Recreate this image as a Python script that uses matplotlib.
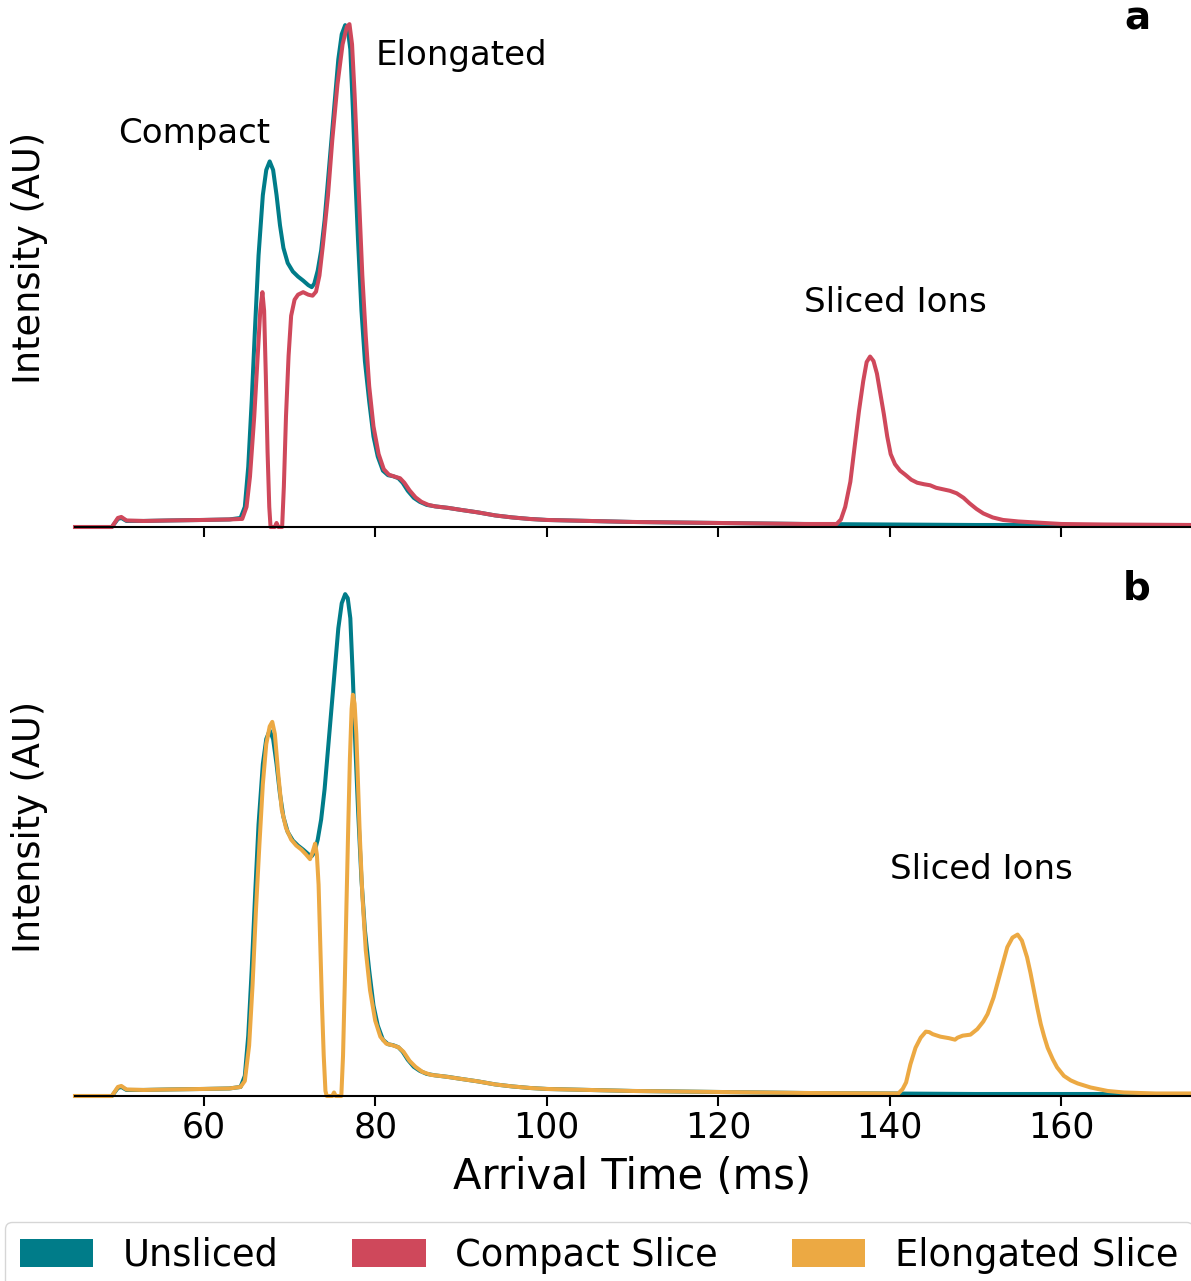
import numpy as np
import matplotlib.pyplot as plt
from matplotlib.patches import Patch

plt.rcParams['font.family'] = 'DejaVu Sans'

# arrival time distributions, intensity normalised to the tallest peak
t_unsliced = [45.0, 49.3, 50.0, 50.4, 51.0, 53.0, 56.0, 60.0, 63.0, 64.3, 64.8, 65.2, 65.6, 66.0,
              66.4, 66.9, 67.3, 67.7, 68.1, 68.5, 68.9, 69.3, 69.8, 70.4, 71.0, 71.6, 72.2, 72.6,
              72.9, 73.3, 73.7, 74.1, 74.5, 74.9, 75.3, 75.7, 76.1, 76.5, 76.8, 77.1, 77.4, 77.7,
              78.0, 78.4, 78.8, 79.3, 79.8, 80.3, 80.9, 81.5, 82.1, 82.7, 83.2, 83.8, 84.5, 85.2,
              86.0, 87.0, 88.5, 90.0, 92.0, 94.0, 96.0, 98.0, 100.0, 105.0, 110.0, 115.0, 120.0,
              130.0, 140.0, 150.0, 160.0, 175.0]
i_unsliced = [0.0, 0.0, 0.016, 0.018, 0.012, 0.012, 0.013, 0.014, 0.015, 0.018, 0.04, 0.12, 0.25, 0.40,
              0.54, 0.66, 0.71, 0.727, 0.71, 0.66, 0.60, 0.555, 0.525, 0.508, 0.498, 0.49, 0.481, 0.477,
              0.484, 0.51, 0.55, 0.61, 0.69, 0.77, 0.85, 0.93, 0.98, 0.998, 0.99, 0.95, 0.83, 0.69,
              0.57, 0.43, 0.33, 0.25, 0.18, 0.14, 0.112, 0.103, 0.101, 0.097, 0.088, 0.072, 0.058, 0.050,
              0.044, 0.041, 0.038, 0.034, 0.029, 0.023, 0.019, 0.016, 0.014, 0.012, 0.010, 0.009, 0.008,
              0.006, 0.005, 0.004, 0.004, 0.004]

t_compact = [45.0, 49.3, 50.0, 50.4, 51.0, 53.0, 56.0, 60.0, 63.0, 64.3, 64.5, 65.0, 65.4, 65.9,
             66.3, 66.6, 66.85, 67.05, 67.25, 67.45, 67.65, 67.8, 68.3, 68.5, 68.7, 69.15, 69.35, 69.6,
             69.9, 70.2, 70.6, 71.0, 71.6, 72.2, 72.7, 73.1, 73.5, 73.9, 74.5, 75.0, 75.6, 76.2,
             76.7, 77.0, 77.3, 77.6, 77.9, 78.2, 78.5, 78.9, 79.3, 79.8, 80.4, 81.0, 81.6, 82.3,
             82.9, 83.4, 84.0, 84.7, 85.4, 86.2, 87.0, 88.5, 90.0, 92.0, 94.0, 96.0, 98.0, 100.0,
             105.0, 110.0, 115.0, 120.0, 130.0, 133.8, 134.3, 134.8, 135.4, 135.9, 136.4, 136.9, 137.3,
             137.7, 138.1, 138.5, 138.9, 139.3, 139.7, 140.1, 140.6, 141.2, 141.8, 142.5, 143.2, 144.0,
             144.7, 145.4, 146.2, 147.0, 147.8, 148.6, 149.3, 150.1, 150.9, 152.0, 153.2, 155.0, 157.0,
             160.0, 165.0, 175.0]
i_compact = [0.0, 0.0, 0.018, 0.02, 0.013, 0.012, 0.013, 0.014, 0.015, 0.016, 0.016, 0.04, 0.10, 0.22,
             0.34, 0.43, 0.467, 0.43, 0.30, 0.15, 0.04, 0.0, 0.0, 0.008, 0.0, 0.0, 0.08, 0.22,
             0.34, 0.42, 0.452, 0.462, 0.467, 0.462, 0.460, 0.468, 0.50, 0.56, 0.66, 0.77, 0.88, 0.96,
             0.995, 1.0, 0.96, 0.86, 0.74, 0.62, 0.50, 0.38, 0.28, 0.20, 0.145, 0.115, 0.104, 0.100,
             0.097, 0.088, 0.073, 0.059, 0.050, 0.044, 0.041, 0.038, 0.034, 0.029, 0.023, 0.019, 0.016, 0.014,
             0.012, 0.010, 0.009, 0.008, 0.006, 0.006, 0.015, 0.04, 0.09, 0.16, 0.23, 0.29, 0.328,
             0.339, 0.33, 0.305, 0.265, 0.225, 0.18, 0.145, 0.125, 0.112, 0.104, 0.094, 0.088, 0.085,
             0.083, 0.078, 0.075, 0.072, 0.067, 0.058, 0.047, 0.036, 0.027, 0.019, 0.014, 0.011, 0.009,
             0.006, 0.005, 0.004]

t_elongated = [45.0, 49.3, 50.0, 50.4, 51.0, 53.0, 56.0, 60.0, 63.0, 64.3, 64.8, 65.3, 65.7, 66.1,
               66.5, 66.9, 67.3, 67.7, 68.0, 68.3, 68.7, 69.1, 69.6, 70.2, 70.8, 71.4, 71.9, 72.4,
               72.7, 73.0, 73.2, 73.4, 73.6, 73.8, 74.0, 74.2, 74.35, 75.0, 75.2, 75.4, 76.05, 76.25,
               76.45, 76.65, 76.85, 77.05, 77.25, 77.4, 77.6, 77.8, 78.0, 78.2, 78.5, 78.9, 79.4, 80.0,
               80.6, 81.3, 82.0, 82.7, 83.3, 84.0, 84.7, 85.5, 86.5, 88.0, 90.0, 92.0, 94.0, 96.0,
               98.0, 100.0, 105.0, 110.0, 115.0, 120.0, 130.0, 141.0, 141.5, 141.9, 142.4, 143.0, 143.6,
               144.2, 144.6, 145.0, 145.9, 146.9, 147.6, 147.9, 148.5, 149.4, 150.2, 150.9, 151.4, 152.1,
               152.9, 153.7, 154.3, 154.9, 155.4, 156.0, 156.4, 156.8, 157.2, 157.6, 158.0, 158.4, 159.0,
               159.5, 160.3, 161.1, 161.9, 163.4, 165.4, 167.3, 171.0, 175.0]
i_elongated = [0.0, 0.0, 0.018, 0.02, 0.013, 0.012, 0.013, 0.014, 0.015, 0.018, 0.03, 0.10, 0.22, 0.37,
               0.50, 0.62, 0.70, 0.735, 0.744, 0.72, 0.64, 0.57, 0.533, 0.51, 0.498, 0.49, 0.481, 0.471,
               0.485, 0.502, 0.48, 0.42, 0.30, 0.18, 0.08, 0.01, 0.0, 0.0, 0.007, 0.0, 0.0, 0.08,
               0.22, 0.38, 0.53, 0.67, 0.77, 0.798, 0.78, 0.72, 0.62, 0.52, 0.40, 0.29, 0.21, 0.15,
               0.118, 0.104, 0.101, 0.097, 0.088, 0.070, 0.058, 0.048, 0.042, 0.039, 0.034, 0.029, 0.023, 0.019,
               0.016, 0.014, 0.012, 0.010, 0.009, 0.008, 0.006, 0.005, 0.014, 0.027, 0.063, 0.096, 0.116,
               0.128, 0.127, 0.123, 0.118, 0.115, 0.112, 0.116, 0.12, 0.122, 0.133, 0.148, 0.163, 0.196,
               0.246, 0.296, 0.315, 0.321, 0.309, 0.276, 0.245, 0.21, 0.175, 0.143, 0.118, 0.096, 0.073,
               0.057, 0.040, 0.031, 0.025, 0.017, 0.010, 0.007, 0.005, 0.005]

c_unsliced = '#007C89'
c_compact = '#CF485B'
c_elongated = '#ECA943'

fig = plt.figure(figsize=(11.91, 12.81), dpi=100)
W, H = 1191, 1281
ax_a = fig.add_axes([75 / W, 1 - 527 / H, 1115 / W, 527 / H])
ax_b = fig.add_axes([75 / W, 1 - 1096 / H, 1115 / W, 527 / H], sharex=ax_a)

lw = 2.9
ax_a.plot(t_unsliced, i_unsliced, color=c_unsliced, lw=lw, clip_on=False)
ax_a.plot(t_compact, i_compact, color=c_compact, lw=lw, clip_on=False)
ax_b.plot(t_unsliced, i_unsliced, color=c_unsliced, lw=lw, clip_on=False)
ax_b.plot(t_elongated, i_elongated, color=c_elongated, lw=lw, clip_on=False)

for ax, tag in [(ax_a, 'a'), (ax_b, 'b')]:
    ax.set_xlim(45, 175)
    ax.set_ylim(0, 1.048)
    for side in ['top', 'right', 'left']:
        ax.spines[side].set_visible(False)
    ax.spines['bottom'].set_linewidth(1.5)
    ax.set_yticks([])
    ax.set_xticks([60, 80, 100, 120, 140, 160])
    ax.tick_params(axis='x', direction='out', length=7, width=1.5, labelsize=25)
    ax.set_ylabel('Intensity (AU)', fontsize=26.5)
    ax.yaxis.set_label_coords(-0.0245, 0.51)
    ax.text(0.965, 1.0, tag, transform=ax.transAxes, ha='right', va='top',
            fontsize=28, fontweight='bold')

ax_a.tick_params(axis='x', labelbottom=False)
ax_b.set_xlabel('Arrival Time (ms)', fontsize=30, labelpad=8)

ax_a.text(58.95, 0.763, 'Compact', ha='center', va='baseline', fontsize=24.5)
ax_a.text(90.0, 0.918, 'Elongated', ha='center', va='baseline', fontsize=24.5)
ax_a.text(140.7, 0.427, 'Sliced Ions', ha='center', va='baseline', fontsize=24.5)
ax_b.text(150.7, 0.431, 'Sliced Ions', ha='center', va='baseline', fontsize=24.5)

handles = [Patch(facecolor=c_unsliced, label='Unsliced'),
           Patch(facecolor=c_compact, label='Compact Slice'),
           Patch(facecolor=c_elongated, label='Elongated Slice')]
fig.legend(handles=handles, loc='upper left', bbox_to_anchor=(5 / W, 1 - 1222 / H),
           borderaxespad=0, ncol=3, fontsize=26.5, handleheight=0.8, frameon=True)

fig.savefig('out.png', dpi=100)
